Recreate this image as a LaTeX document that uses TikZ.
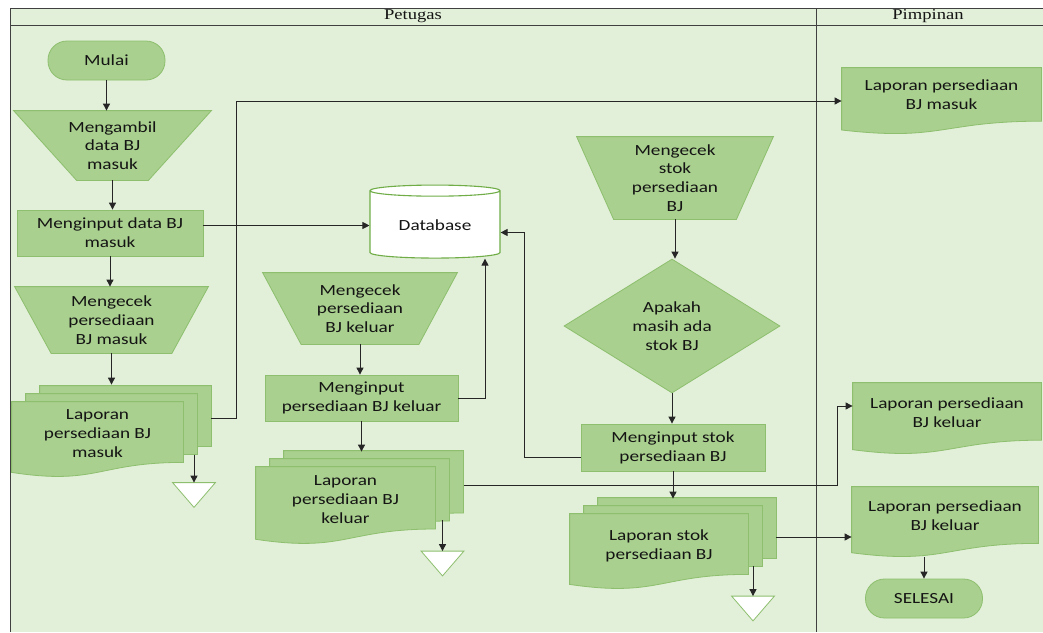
\documentclass[tikz,border=0pt]{standalone}
\usepackage{fontspec}
\newfontfamily\flowfont{Carlito}[FakeStretch=1.24]
\newfontfamily\lanefont{Liberation Serif}[FakeStretch=1.24]
\usetikzlibrary{shapes.geometric, shadows, arrows.meta, calc}

\definecolor{lanebg}{HTML}{E2EFD9}
\definecolor{boxfill}{HTML}{A9D08E}
\definecolor{boxline}{HTML}{8DBF6E}
\definecolor{dbline}{HTML}{70AD47}
\definecolor{textcol}{HTML}{141414}

\makeatletter
\newdimen\docxa \newdimen\docxb \newdimen\docya \newdimen\docyb
\newdimen\docxm \newdimen\docyr \newdimen\docyl \newdimen\docyq
\pgfkeys{/pgf/manual inset/.initial=36pt}
% sheet with a wavy bottom
\pgfdeclareshape{wavedoc}{
  \inheritsavedanchors[from=rectangle]
  \inheritanchorborder[from=rectangle]
  \inheritanchor[from=rectangle]{center}
  \inheritanchor[from=rectangle]{north}
  \inheritanchor[from=rectangle]{south}
  \inheritanchor[from=rectangle]{east}
  \inheritanchor[from=rectangle]{west}
  \inheritanchor[from=rectangle]{north east}
  \inheritanchor[from=rectangle]{north west}
  \inheritanchor[from=rectangle]{south east}
  \inheritanchor[from=rectangle]{south west}
  \anchor{text}{\pgfqpoint{0pt}{6pt}}
  \backgroundpath{
    \southwest \docxa=\pgf@x \docya=\pgf@y
    \northeast \docxb=\pgf@x \docyb=\pgf@y
    \docxm=.5\docxa \advance\docxm by .5\docxb
    \dimen@=\docyb \advance\dimen@ by -\docya
    \docyr=\docyb \advance\docyr by -0.802\dimen@
    \docyl=\docyb \advance\docyl by -0.934\dimen@
    \docyq=\docyb \advance\docyq by -1.1075\dimen@
    \pgfpathmoveto{\pgfqpoint{\docxa}{\docyb}}
    \pgfpathlineto{\pgfqpoint{\docxb}{\docyb}}
    \pgfpathlineto{\pgfqpoint{\docxb}{\docyr}}
    \pgfpathcurveto{\pgfqpoint{\docxm}{\docyr}}{\pgfqpoint{\docxm}{\docyq}}{\pgfqpoint{\docxa}{\docyl}}
    \pgfpathclose
  }
}
% manual operation
\pgfdeclareshape{manualop}{
  \inheritsavedanchors[from=rectangle]
  \inheritanchorborder[from=rectangle]
  \inheritanchor[from=rectangle]{center}
  \inheritanchor[from=rectangle]{north}
  \inheritanchor[from=rectangle]{south}
  \inheritanchor[from=rectangle]{east}
  \inheritanchor[from=rectangle]{west}
  \backgroundpath{
    \southwest \docxa=\pgf@x \docya=\pgf@y
    \northeast \docxb=\pgf@x \docyb=\pgf@y
    \docxm=\pgfkeysvalueof{/pgf/manual inset}\relax
    \pgfpathmoveto{\pgfqpoint{\docxa}{\docyb}}
    \pgfpathlineto{\pgfqpoint{\docxb}{\docyb}}
    \advance\docxb by -\docxm
    \advance\docxa by \docxm
    \pgfpathlineto{\pgfqpoint{\docxb}{\docya}}
    \pgfpathlineto{\pgfqpoint{\docxa}{\docya}}
    \pgfpathclose
  }
}
% off-page end
\pgfdeclareshape{mergetri}{
  \inheritsavedanchors[from=rectangle]
  \inheritanchorborder[from=rectangle]
  \inheritanchor[from=rectangle]{center}
  \inheritanchor[from=rectangle]{north}
  \inheritanchor[from=rectangle]{south}
  \backgroundpath{
    \southwest \docxa=\pgf@x \docya=\pgf@y
    \northeast \docxb=\pgf@x \docyb=\pgf@y
    \docxm=.5\docxa \advance\docxm by .5\docxb
    \pgfpathmoveto{\pgfqpoint{\docxa}{\docyb}}
    \pgfpathlineto{\pgfqpoint{\docxb}{\docyb}}
    \pgfpathlineto{\pgfqpoint{\docxm}{\docya}}
    \pgfpathclose
  }
}
\makeatother

\tikzset{
    every node/.style={text=textcol, align=center},
    box/.style={fill=boxfill, draw=boxline, line width=0.8pt},
    terminal/.style={box, rectangle, rounded corners=19pt, minimum width=117pt, minimum height=39pt},
    process/.style={box, rectangle},
    manop/.style={box, manualop},
    decision/.style={box, diamond, inner sep=0pt, minimum width=216pt, minimum height=134pt},
    report/.style={box, wavedoc},
    reports/.style={report, double copy shadow={shadow xshift=14pt, shadow yshift=8pt, fill=boxfill, draw=boxline}},
    db/.style={cylinder, shape border rotate=90, aspect=0.14, draw=dbline, fill=white, line width=1.1pt, minimum width=130pt, minimum height=73pt},
    offpage/.style={mergetri, draw=boxline, fill=white, line width=0.8pt, inner sep=0pt, minimum width=42pt, minimum height=24pt},
    flow/.style={draw=black!85, line width=0.9pt, -{Triangle[length=7pt,width=7pt]}},
    laneline/.style={draw=black!75, line width=0.9pt},
    lanetitle/.style={font=\lanefont\fontsize{15}{17}\selectfont, inner sep=0pt},
}

\begin{document}
\begin{tikzpicture}[x=1pt, y=-1pt, font=\flowfont\fontsize{15.5}{18.8}\selectfont]
    \useasboundingbox (0,0) rectangle (1043,632);
    % lanes
    \fill[lanebg] (10,8) rectangle (1043,632);
    \draw[laneline] (1043,8) -- (10,8) -- (10,632);
    \draw[laneline] (10,25) -- (1043,25) (816,8) -- (816,632);
    \node[lanetitle] (petugas) at (413,16.5) {Petugas};
    \node[lanetitle] (pimpinan) at (928,16.5) {Pimpinan};

    % Petugas
    \node[terminal] (mulai) at (106.5,60.5) {Mulai};
    \node[manop, manual inset=63pt, minimum width=197pt, minimum height=69pt] (ambil) at (112.5,145.5) {Mengambil\\data BJ\\masuk};
    \node[process, minimum width=186pt, minimum height=46pt] (inputmasuk) at (110,233) {Menginput data BJ\\masuk};
    \node[manop, manual inset=36.5pt, minimum width=193pt, minimum height=66pt] (cekmasuk) at (111.5,320) {Mengecek\\persediaan\\BJ masuk};
    \node[reports, minimum width=171pt, minimum height=75pt] (lapmasuk) at (97.5,439.5) {Laporan\\persediaan BJ\\masuk};
    \node[offpage] (endmasuk) at (194,495) {};

    \node[db] (database) at (435,225.5) {Database};
    \node[manop, manual inset=38.5pt, minimum width=194pt, minimum height=71pt] (cekkeluar) at (360,308.5) {Mengecek\\persediaan\\BJ keluar};
    \node[process, minimum width=193pt, minimum height=46pt] (inputkeluar) at (361.5,398) {Menginput\\persediaan BJ keluar};
    \node[reports, minimum width=179pt, minimum height=77pt] (lapkeluar) at (345.5,505.5) {Laporan\\persediaan BJ\\keluar};
    \node[offpage] (endkeluar) at (442.5,563.5) {};

    \node[manop, manual inset=37pt, minimum width=196pt, minimum height=82pt] (cekstok) at (675,178) {Mengecek\\stok\\persediaan\\BJ};
    \node[decision] (apakah) at (672,326) {Apakah\\masih ada\\stok BJ};
    \node[process, minimum width=184pt, minimum height=47pt] (inputstok) at (673,447.5) {Menginput stok\\persediaan BJ};
    \node[reports, minimum width=178pt, minimum height=75pt] (lapstok) at (659,551.5) {Laporan stok\\persediaan BJ};
    \node[offpage] (endstok) at (753,608.5) {};

    % Pimpinan
    \node[report, minimum width=199pt, minimum height=66pt] (pmasuk) at (941.5,101) {Laporan persediaan\\BJ masuk};
    \node[report, minimum width=188pt, minimum height=71pt] (pkeluar) at (947,418.5) {Laporan persediaan\\BJ keluar};
    \node[report, minimum width=186pt, minimum height=70pt] (pstok) at (945,522) {Laporan persediaan\\BJ keluar};
    \node[terminal] (selesai) at (924,598.5) {SELESAI};

    \draw (mulai.south) edge[flow] (mulai.south |- ambil.north)
          (ambil.south) edge[flow] (ambil.south |- inputmasuk.north)
          (inputmasuk.south) edge[flow] (inputmasuk.south |- cekmasuk.north)
          (cekmasuk.south) edge[flow] ($(cekmasuk.south |- lapmasuk.north)+(0,-17)$)
          ($(endmasuk.north)+(0,-28)$) edge[flow] (endmasuk.north)
          (inputmasuk.east |- database.west) edge[flow] (database.west)
          (cekkeluar.south) edge[flow] (cekkeluar.south |- inputkeluar.north)
          (inputkeluar.south) edge[flow] ($(inputkeluar.south |- lapkeluar.north)+(0,-15)$)
          ($(endkeluar.north)+(0,-31)$) edge[flow] (endkeluar.north)
          (cekstok.south) edge[flow] (cekstok.south |- apakah.north)
          (apakah.south) edge[flow] (apakah.south |- inputstok.north)
          (inputstok.south) edge[flow] ($(inputstok.south |- lapstok.north)+(0,-15)$)
          ($(endstok.north)+(0,-30)$) edge[flow] (endstok.north)
          ($(lapstok.east)+(28,-14.5)$) edge[flow] ($(pstok.west)+(0,15)$)
          (selesai.north |- pstok.south) edge[flow] (selesai.north);
    \draw[flow] ($(lapmasuk.east)+(28,-21)$) -- ++(25,0) |- (pmasuk.west);
    \draw[flow] (inputkeluar.east) -| ($(database.south)+(50,0)$);
    \draw[flow] ($(inputstok.west)+(0,10)$) -| ($(database.east)+(24,7)$) -- ($(database.east)+(0,7)$);
    \draw[flow] ($(lapkeluar.east)+(29,-20.5)$) -| ($(pkeluar.west)+(-15,-12.5)$) -- ($(pkeluar.west)+(0,-12.5)$);
\end{tikzpicture}
\end{document}
